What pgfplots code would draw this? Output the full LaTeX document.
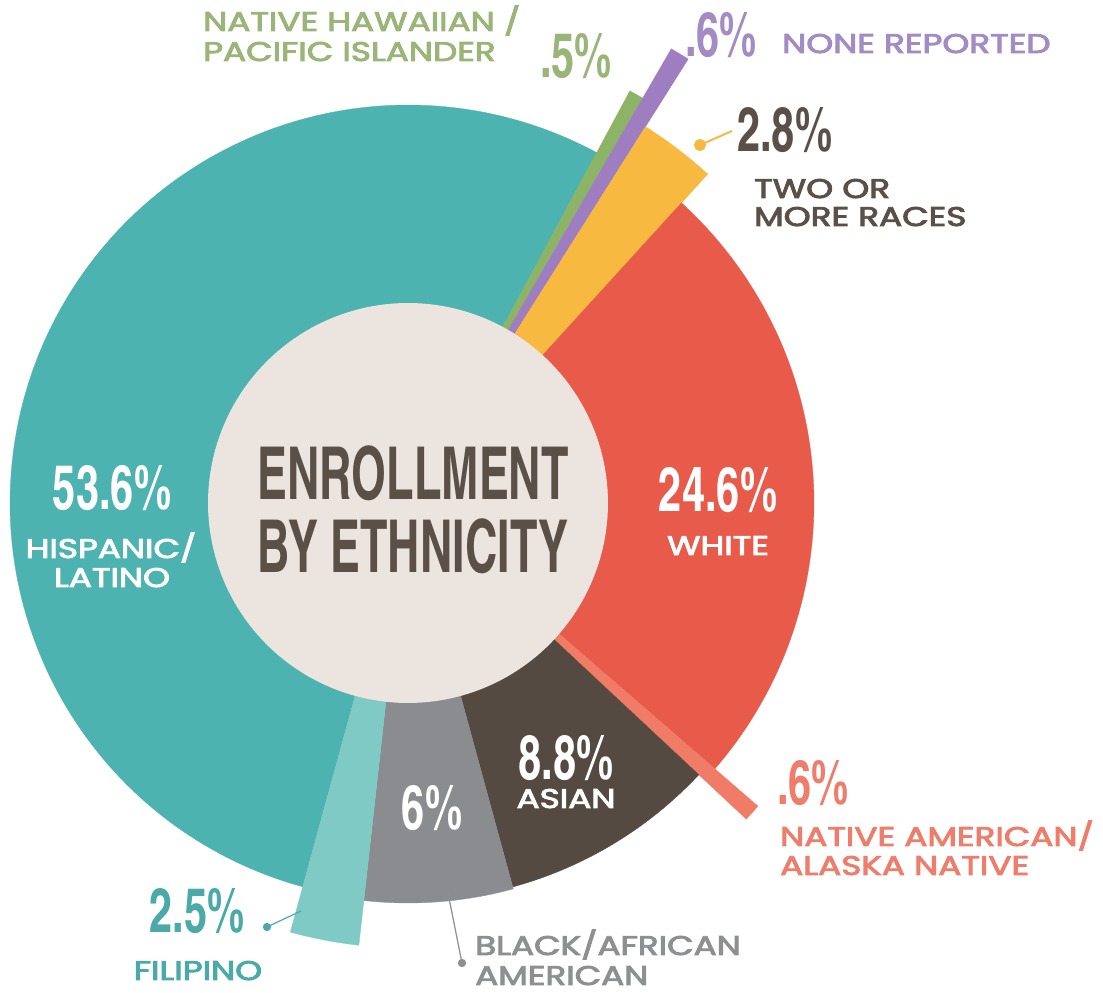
\documentclass[border=0pt]{standalone}
\usepackage{pgfplots}
\pgfplotsset{compat=1.18}
\usepackage{graphicx}
\usepackage{fontspec}
\setmainfont{Poppins}
\newfontfamily\labfont{Poppins}[FakeBold=3]
\IfFontExistsTF{texgyreheroscn-bold.otf}{\newfontfamily\cond{texgyreheroscn-bold.otf}}{\newfontfamily\cond{Liberation Sans}[UprightFont={* Bold}]}

\definecolor{cHisp}{HTML}{4DB3B0}
\definecolor{cFil}{HTML}{7FCAC5}
\definecolor{cBlack}{HTML}{8A8C8F}
\definecolor{cAsian}{HTML}{554A41}
\definecolor{cWhite}{HTML}{E85A4A}
\definecolor{cNatAm}{HTML}{F07C68}
\definecolor{cTwo}{HTML}{F7B940}
\definecolor{cNone}{HTML}{9E7EC1}
\definecolor{cHaw}{HTML}{8DB366}
\definecolor{cHole}{HTML}{EBE4DF}
\definecolor{tBrown}{HTML}{5B5048}
\definecolor{tGreen}{HTML}{9BB478}
\definecolor{tPurple}{HTML}{A38BC4}
\definecolor{tSalmon}{HTML}{EE7D6B}
\definecolor{tTeal}{HTML}{4BAAA8}
\definecolor{tGrey}{HTML}{8D8F91}

% sector: start cumulative %, end cumulative %, radius (px), colour
\newcommand{\sector}[4]{\addplot[draw=#4, line width=0.3pt, fill=#4, domain=#1:#2, samples=150]
  ({408+#3*sin(28.3+3.6*x)},{490+#3*cos(28.3+3.6*x)}) -- (axis cs:408,490) -- cycle;}
\newcommand{\bignum}[2]{\scalebox{0.82}[1]{\fontsize{#1}{#1}\cond #2}}
\newcommand{\ttl}[1]{\scalebox{0.75}[1]{\fontsize{73}{73}\cond #1}}
\newcommand{\lab}[1]{\scalebox{1.27}[1]{\fontsize{27}{27}\labfont #1}}

\begin{document}
\begin{tikzpicture}
\begin{axis}[hide axis, scale only axis, width=1103pt, height=993pt,
  xmin=0, xmax=1103, ymin=0, ymax=993, clip=false]
% Hispanic/Latino 53.6
\sector{46.4}{100}{398}{cHisp}
% Native Hawaiian / Pacific Islander 0.5
\sector{0}{0.5}{468}{cHaw}
% None reported 0.6
\sector{0.5}{1.1}{525}{cNone}
% Two or more races 2.8
\sector{1.1}{3.9}{445}{cTwo}
% White 24.6
\sector{3.9}{28.5}{406}{cWhite}
% Native American / Alaska Native 0.6
\sector{28.5}{29.1}{463}{cNatAm}
% Asian 8.8
\sector{29.1}{37.9}{398}{cAsian}
% Black / African American 6
\sector{37.9}{43.9}{400}{cBlack}
% Filipino 2.5
\sector{43.9}{46.4}{445}{cFil}
% centre disc
\addplot[draw=none, fill=cHole, domain=0:360, samples=180] ({408+200*cos(x)},{490+200*sin(x)});

% leader lines
\addplot[cTwo, line width=2pt, mark=*, mark size=5pt, mark indices={1}] coordinates {(700,848) (732,862)};
\addplot[tTeal, line width=1.2pt, mark=*, mark size=3.5pt, mark indices={1}] coordinates {(267,66) (301,82)};
\addplot[tGrey, line width=1.2pt, mark=*, mark size=3.5pt, mark indices={1}] coordinates {(462,30) (448,100)};

% centre title
\node[anchor=base, text=tBrown] at (axis cs:413,493) {\ttl{ENROLLMENT}};
\node[anchor=base, text=tBrown] at (axis cs:413,420) {\ttl{BY ETHNICITY}};

% numbers
\node[anchor=base, text=white] at (axis cs:112,483) {\bignum{62}{53.6\%}};
\node[anchor=base, text=white] at (axis cs:718,481) {\bignum{62}{24.6\%}};
\node[anchor=base, text=white] at (axis cs:566,213) {\bignum{62}{8.8\%}};
\node[anchor=base, text=white] at (axis cs:432,163) {\bignum{62}{6\%}};
\node[anchor=base, text=tTeal] at (axis cs:197,60) {\bignum{62}{2.5\%}};
\node[anchor=base west, inner sep=0pt, text=tSalmon] at (axis cs:777,188) {\bignum{62}{.6\%}};
\node[anchor=base west, inner sep=0pt, text=tBrown] at (axis cs:737,841) {\bignum{62}{2.8\%}};
\node[anchor=base west, inner sep=0pt, text=tGreen] at (axis cs:540,915) {\bignum{62}{.5\%}};
\node[anchor=base west, inner sep=0pt, text=tPurple] at (axis cs:685,936) {\bignum{62}{.6\%}};

% labels
\node[anchor=base, text=white] at (axis cs:111,435) {\lab{HISPANIC/}};
\node[anchor=base, text=white] at (axis cs:112,406) {\lab{LATINO}};
\node[anchor=base, text=white] at (axis cs:718,438) {\lab{WHITE}};
\node[anchor=base, text=white] at (axis cs:566,185) {\lab{ASIAN}};
\node[anchor=base, text=tTeal] at (axis cs:198,13) {\lab{FILIPINO}};
\node[anchor=base west, inner sep=0pt, text=tGreen] at (axis cs:203,962) {\lab{NATIVE HAWAIIAN /}};
\node[anchor=base west, inner sep=0pt, text=tGreen] at (axis cs:203,932) {\lab{PACIFIC ISLANDER}};
\node[anchor=base west, inner sep=0pt, text=tPurple] at (axis cs:782,940) {\lab{NONE REPORTED}};
\node[anchor=base west, inner sep=0pt, text=tBrown] at (axis cs:754,795) {\lab{TWO OR}};
\node[anchor=base west, inner sep=0pt, text=tBrown] at (axis cs:754,767) {\lab{MORE RACES}};
\node[anchor=base west, inner sep=0pt, text=tSalmon] at (axis cs:780,147) {\lab{NATIVE AMERICAN/}};
\node[anchor=base west, inner sep=0pt, text=tSalmon] at (axis cs:780,118) {\lab{ALASKA NATIVE}};
\node[anchor=base west, inner sep=0pt, text=tGrey] at (axis cs:475,38) {\lab{BLACK/AFRICAN}};
\node[anchor=base west, inner sep=0pt, text=tGrey] at (axis cs:475,8) {\lab{AMERICAN}};
\end{axis}
\pgfresetboundingbox
\path (current axis.south west) rectangle (current axis.north east);
\end{tikzpicture}
\end{document}
